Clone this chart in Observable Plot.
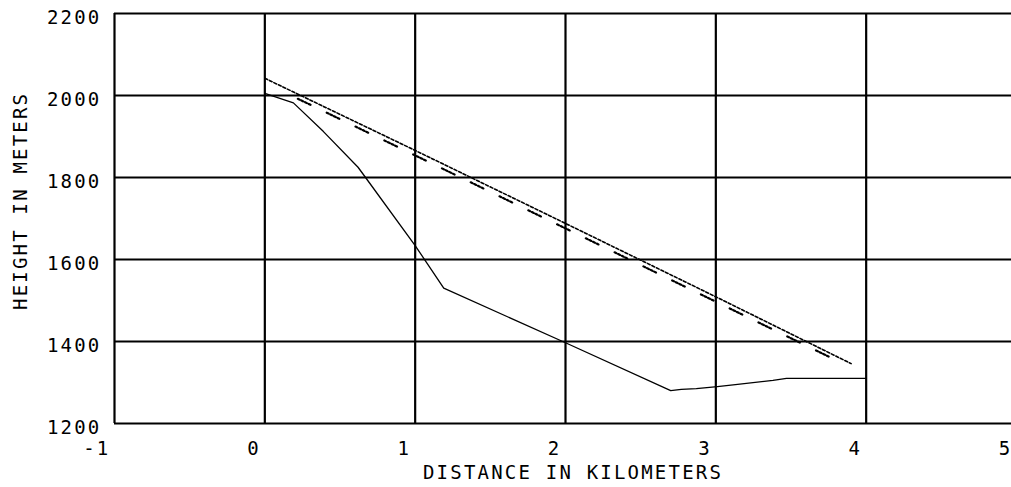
<!DOCTYPE html>
<html>
<head>
<meta charset="utf-8">
<script src="https://cdn.jsdelivr.net/npm/d3@7"></script>
<script src="https://cdn.jsdelivr.net/npm/@observablehq/plot@0.6"></script>
<style>
  html, body { margin: 0; padding: 0; background: #fff; }
  #chart svg { display: block; }
</style>
</head>
<body>
<div id="chart"></div>
<script>
// Tick values
const xTicks = [-1, 0, 1, 2, 3, 4, 5];
const yTicks = [1200, 1400, 1600, 1800, 2000, 2200];
const xGrid = [0, 1, 2, 3, 4];

// Lower profile (solid line)
const lowerX = [0, 0.19, 0.39, 0.62, 0.67, 1.0, 1.19, 2.0, 2.7, 2.77, 2.87, 3.01, 3.13, 3.38, 3.47, 4.0];
const lowerY = [2005, 1982, 1912, 1825, 1800, 1634, 1530, 1397, 1280, 1283, 1285, 1290, 1295, 1305, 1310, 1310];

// Upper profile (main dotted line)
const upperX = [0, 1.0, 2.0, 3.0, 3.9];
const upperY = [2042, 1866, 1688, 1509, 1346];

// Upper profile, companion hatched trace just below
const upper2X = [0.22, 1.0, 2.0, 3.0, 3.78];
const upper2Y = [1992, 1854, 1676, 1497, 1358];

const lower = lowerX.map((x, i) => ({x, y: lowerY[i]}));
const upper = upperX.map((x, i) => ({x, y: upperY[i]}));
const upper2 = upper2X.map((x, i) => ({x, y: upper2Y[i]}));

const font = "'DejaVu Sans Mono', 'Liberation Mono', monospace";

const chart = Plot.plot({
  width: 1011,
  height: 487,
  marginLeft: 114,
  marginRight: 0,
  marginTop: 13,
  marginBottom: 64,
  style: {fontFamily: font, fontSize: "18px", color: "#000", background: "#fff", overflow: "visible"},
  x: {domain: [-1, 5], range: [114, 1016]},
  y: {domain: [1200, 2200]},
  marks: [
    Plot.ruleY(yTicks, {y: d => d, x1: -1, x2: 5, stroke: "#000", strokeWidth: 2}),
    Plot.ruleX([-1, ...xGrid], {x: d => d, y1: 1200, y2: 2200, stroke: "#000", strokeWidth: 2.2}),
    Plot.line(lower, {x: "x", y: "y", stroke: "#000", strokeWidth: 1.3}),
    Plot.line(upper, {x: "x", y: "y", stroke: "#000", strokeWidth: 1.6, strokeDasharray: "3,2"}),
    Plot.line(upper2, {x: "x", y: "y", stroke: "#000", strokeWidth: 2.2, strokeDasharray: "2,2,2,2,2,2,2,18"}),
    Plot.axisX(xTicks, {tickSize: 0, tickFormat: d => d < 0 ? "-" + Math.abs(d) : String(d),
      textAnchor: "end", dx: -4, dy: 9, fontSize: 19, fontFamily: font,
      label: null}),
    Plot.axisY(yTicks, {tickSize: 0, tickFormat: d => String(d), textAnchor: "end",
      dx: -4, dy: 4, fontSize: 19, fontFamily: font, label: null}),
    Plot.text(["DISTANCE IN KILOMETERS"], {x: 2.05, y: 1200, dy: 49,
      fontSize: 19, fontFamily: font, fill: "#000", textAnchor: "middle",
      text: d => d, lineAnchor: "middle"}),
    Plot.text(["HEIGHT IN METERS"], {x: -1, y: 1743, dx: -94, rotate: -90,
      fontSize: 19, fontFamily: font, fill: "#000", textAnchor: "middle", lineAnchor: "middle"})
  ]
});

// Plotter-like letter spacing
chart.querySelectorAll("text").forEach(t => t.setAttribute("letter-spacing", "2.2"));
document.getElementById("chart").appendChild(chart);
</script>
</body>
</html>
